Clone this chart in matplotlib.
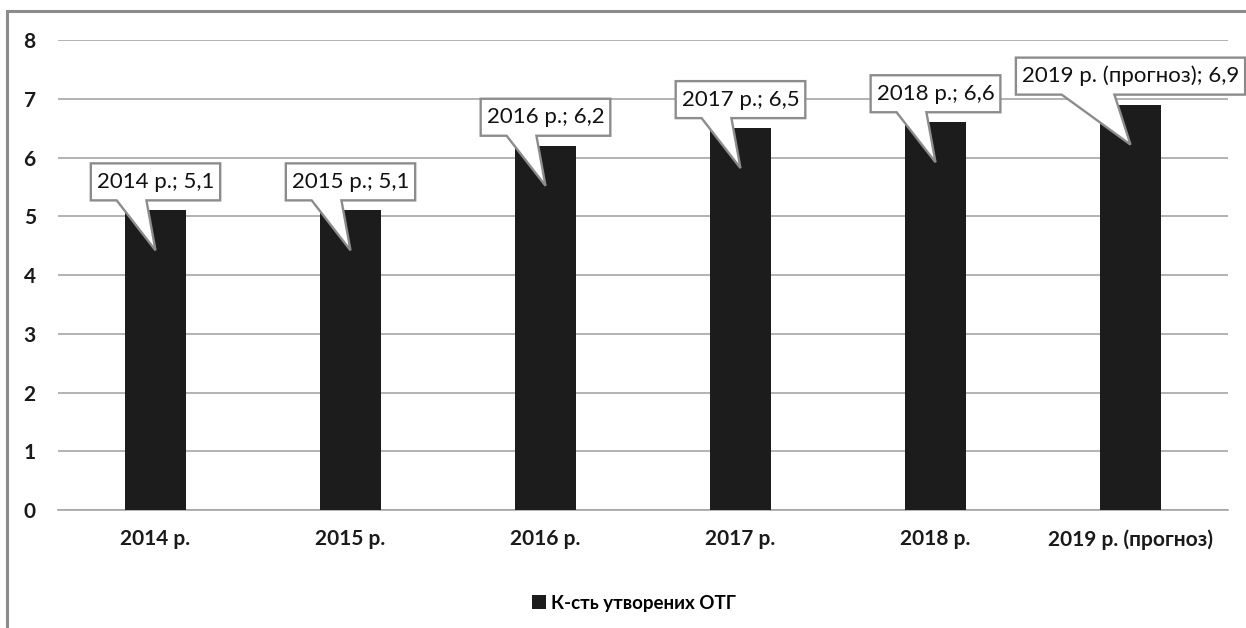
import matplotlib
matplotlib.use('Agg')
import matplotlib.pyplot as plt
from matplotlib.patches import Polygon, Rectangle
import matplotlib.transforms as mtransforms

categories = ['2014 р.', '2015 р.', '2016 р.', '2017 р.', '2018 р.', '2019 р. (прогноз)']
values = [5.1, 5.1, 6.2, 6.5, 6.6, 6.9]
series_name = 'К-сть утворених ОТГ'
yticks = [0, 1, 2, 3, 4, 5, 6, 7, 8]

plt.rcParams['font.family'] = ['Lato', 'DejaVu Sans']

DPI = 100
W, H = 1246, 628
fig = plt.figure(figsize=(W / DPI, H / DPI), dpi=DPI)
fig.patch.set_facecolor('white')

ax = fig.add_axes([58 / W, 1 - 510 / H, 1170 / W, 470 / H])
xpos = list(range(len(categories)))
ax.bar(xpos, values, width=0.31, color='#1c1c1c', label=series_name, zorder=3)
ax.set_xlim(-0.5, len(categories) - 0.5)
ax.set_ylim(0, 8)
ax.set_yticks(yticks)
ax.set_xticks(xpos)
ax.set_xticklabels(categories)
ax.yaxis.grid(True, color='#a6a6a6', lw=1.2)
ax.set_axisbelow(True)
for s in ['top', 'right', 'left']:
    ax.spines[s].set_visible(False)
ax.spines['bottom'].set_color('#a6a6a6')
ax.spines['bottom'].set_linewidth(1.2)
ax.tick_params(axis='both', length=0, labelsize=15, labelcolor='#1a1a1a')
ax.tick_params(axis='y', pad=16)
ax.tick_params(axis='x', pad=14)
for lab in ax.get_xticklabels() + ax.get_yticklabels():
    lab.set_fontweight('bold')

leg = fig.legend(loc='center', bbox_to_anchor=(634 / W, 1 - 603 / H), frameon=False,
                 handlelength=0.75, handleheight=0.75, handletextpad=0.3,
                 prop={'size': 13.5, 'weight': 'bold'})

# outer frame (partially visible)
fig.add_artist(Rectangle((7 / W, -0.3), 1.5, 1.3 - 11 / H, transform=fig.transFigure,
                         fill=False, ec='#8c8c8c', lw=2.2, clip_on=False))

fig.canvas.draw()
r = fig.canvas.get_renderer()
px2pt = 72 / DPI
b, h, tip = 10, 37, 40
for xi, v, cat in zip(xpos, values, categories):
    label = f"{cat}; {str(v).replace('.', ',')}"
    t = ax.annotate(label, xy=(xi, v), xytext=(0, (b + h / 2) * px2pt),
                    textcoords='offset points', ha='center', va='center',
                    fontsize=16, color='#111111', zorder=8, annotation_clip=False)
    bb = t.get_window_extent(r)
    w = bb.width + 12
    verts = [(-w / 2, b), (-0.3 * w, b), (0, -tip), (-0.07 * w, b),
             (w / 2, b), (w / 2, b + h), (-w / 2, b + h)]
    trans = mtransforms.Affine2D() + mtransforms.ScaledTranslation(xi, v, ax.transData)
    poly = Polygon(verts, closed=True, transform=trans, fc='white', ec='#8c8c8c',
                   lw=1.7, joinstyle='miter', zorder=6, clip_on=False)
    ax.add_artist(poly)

fig.savefig('out.png', dpi=DPI, facecolor='white')
